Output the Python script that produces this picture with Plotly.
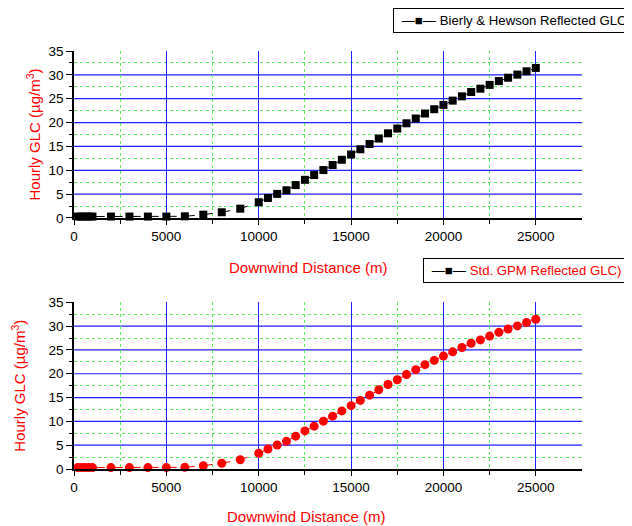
import plotly.graph_objects as go

distance = [200, 400, 600, 800, 1000, 2000, 3000, 4000, 5000, 6000, 7000, 8000, 9000,
            10000, 10500, 11000, 11500, 12000, 12500, 13000, 13500, 14000, 14500, 15000,
            15500, 16000, 16500, 17000, 17500, 18000, 18500, 19000, 19500, 20000, 20500,
            21000, 21500, 22000, 22500, 23000, 23500, 24000, 24500, 25000]
bierly_hewson = [0.3, 0.3, 0.3, 0.3, 0.3, 0.3, 0.3, 0.3, 0.3, 0.35, 0.7, 1.2, 1.95,
                 3.3, 4.2, 5.05, 5.8, 6.9, 8.0, 9.0, 10.05, 11.1, 12.2, 13.3,
                 14.4, 15.5, 16.65, 17.75, 18.75, 19.85, 20.85, 21.9, 22.8, 23.7, 24.6,
                 25.5, 26.4, 27.1, 27.9, 28.7, 29.4, 30.05, 30.75, 31.45]
std_gpm = [0.3, 0.3, 0.3, 0.3, 0.3, 0.3, 0.3, 0.3, 0.3, 0.35, 0.7, 1.2, 1.95,
           3.3, 4.2, 5.05, 5.8, 6.9, 8.0, 9.0, 10.05, 11.1, 12.2, 13.3,
           14.4, 15.5, 16.65, 17.75, 18.75, 19.85, 20.85, 21.9, 22.8, 23.7, 24.6,
           25.5, 26.4, 27.1, 27.9, 28.7, 29.4, 30.05, 30.75, 31.45]
x_ticks = [0, 5000, 10000, 15000, 20000, 25000]
x_ticktext = ["0", "5000", "10000", "15000", "20000", "25000"]
x_minor = [2500, 7500, 12500, 17500, 22500]
y_ticks = [0, 5, 10, 15, 20, 25, 30, 35]
y_minor = [2.5, 7.5, 12.5, 17.5, 22.5, 27.5, 32.5]
y_grid = y_ticks[1:-1]

FONT = "Liberation Sans, Arial, sans-serif"
BLUE = "#1f1fff"
GREEN = "#5cf05c"

fig = go.Figure()
fig.add_trace(go.Scatter(x=distance, y=bierly_hewson, mode="lines+markers", xaxis="x", yaxis="y",
                         line=dict(color="black", width=1, dash="dash"),
                         marker=dict(symbol="square", size=8, color="black"),
                         showlegend=False, cliponaxis=False))
fig.add_trace(go.Scatter(x=distance, y=std_gpm, mode="lines+markers", xaxis="x2", yaxis="y2",
                         line=dict(color="red", width=1, dash="dash"),
                         marker=dict(symbol="circle", size=9, color="red"),
                         showlegend=False, cliponaxis=False))


def xaxis(anchor):
    return dict(anchor=anchor, domain=[0, 1], range=[0, 27500], tickvals=x_ticks, ticktext=x_ticktext,
                showline=True, linecolor="black", linewidth=1.5, ticks="outside", ticklen=5,
                tickcolor="black", showgrid=True, gridcolor=BLUE, gridwidth=1.2, zeroline=False,
                tickfont=dict(family=FONT, size=13.5, color="black"), automargin=False,
                minor=dict(tickvals=x_minor, showgrid=True, gridcolor=GREEN, griddash="dot",
                           gridwidth=1, ticks="outside", ticklen=4, tickcolor="black"))


def yaxis(anchor, domain, standoff):
    return dict(anchor=anchor, domain=domain, range=[0, 35], tickvals=y_ticks, showline=True,
                linecolor="black", linewidth=1.5, ticks="outside", ticklen=6, tickcolor="black",
                showgrid=False, zeroline=False, automargin=False,
                tickfont=dict(family=FONT, size=13.5, color="black"),
                minor=dict(tickvals=y_minor, showgrid=True, gridcolor=GREEN, griddash="dot",
                           gridwidth=1, ticks="outside", ticklen=3, tickcolor="black"),
                title=dict(text="Hourly GLC (\u00b5g/m<sup>3</sup>)",
                           font=dict(family=FONT, size=15, color="red"), standoff=standoff))


top_dom = [0.6005, 1.0]
bot_dom = [0.0, 0.3988]
fig.update_layout(
    xaxis=xaxis("y"), yaxis=yaxis("x", top_dom, 4),
    xaxis2=xaxis("y2"), yaxis2=yaxis("x2", bot_dom, 19),
)

# solid blue major grid lines for the y axes (none at the top edge, as in the original)
for xr, yr in (("x", "y"), ("x2", "y2")):
    for gv in y_grid:
        fig.add_shape(type="line", xref=f"{xr} domain", yref=yr, x0=0, x1=1, y0=gv, y1=gv,
                      line=dict(color=BLUE, width=1.2), layer="below")

# x-axis titles (set slightly left of centre, as in the original)
for xp, yp in ((0.4616, 0.481), (0.4567, -0.1136)):
    fig.add_annotation(xref="paper", yref="paper", x=xp, y=yp, xanchor="center", yanchor="middle",
                       text="Downwind Distance (m)", showarrow=False,
                       font=dict(family=FONT, size=15, color="red"))

fig.add_annotation(xref="paper", yref="paper", x=0.628, y=1.0718, xanchor="left", yanchor="middle",
                   text="<span style='color:black'>\u00a0\u2014\u25a0\u2014</span> Bierly & Hewson Reflected GLC",
                   showarrow=False, font=dict(family=FONT, size=13.2, color="black"),
                   bordercolor="black", borderwidth=1, borderpad=4, bgcolor="white", align="left")
fig.add_annotation(xref="paper", yref="paper", x=0.687, y=0.476, xanchor="left", yanchor="middle",
                   text="<span style='color:black'>\u00a0\u2014\u25a0\u2014</span> Std. GPM Reflected GLC)",
                   showarrow=False, font=dict(family=FONT, size=13.2, color="red"),
                   bordercolor="black", borderwidth=1, borderpad=4, bgcolor="white", align="left")

# page body has an 8px margin, so the figure is sized to fill the rest of the window
fig.update_layout(width=624, height=518, margin=dict(l=66, r=50, t=43, b=57),
                  plot_bgcolor="white", paper_bgcolor="white", showlegend=False,
                  font=dict(family=FONT))

fig.write_html("out.html")
